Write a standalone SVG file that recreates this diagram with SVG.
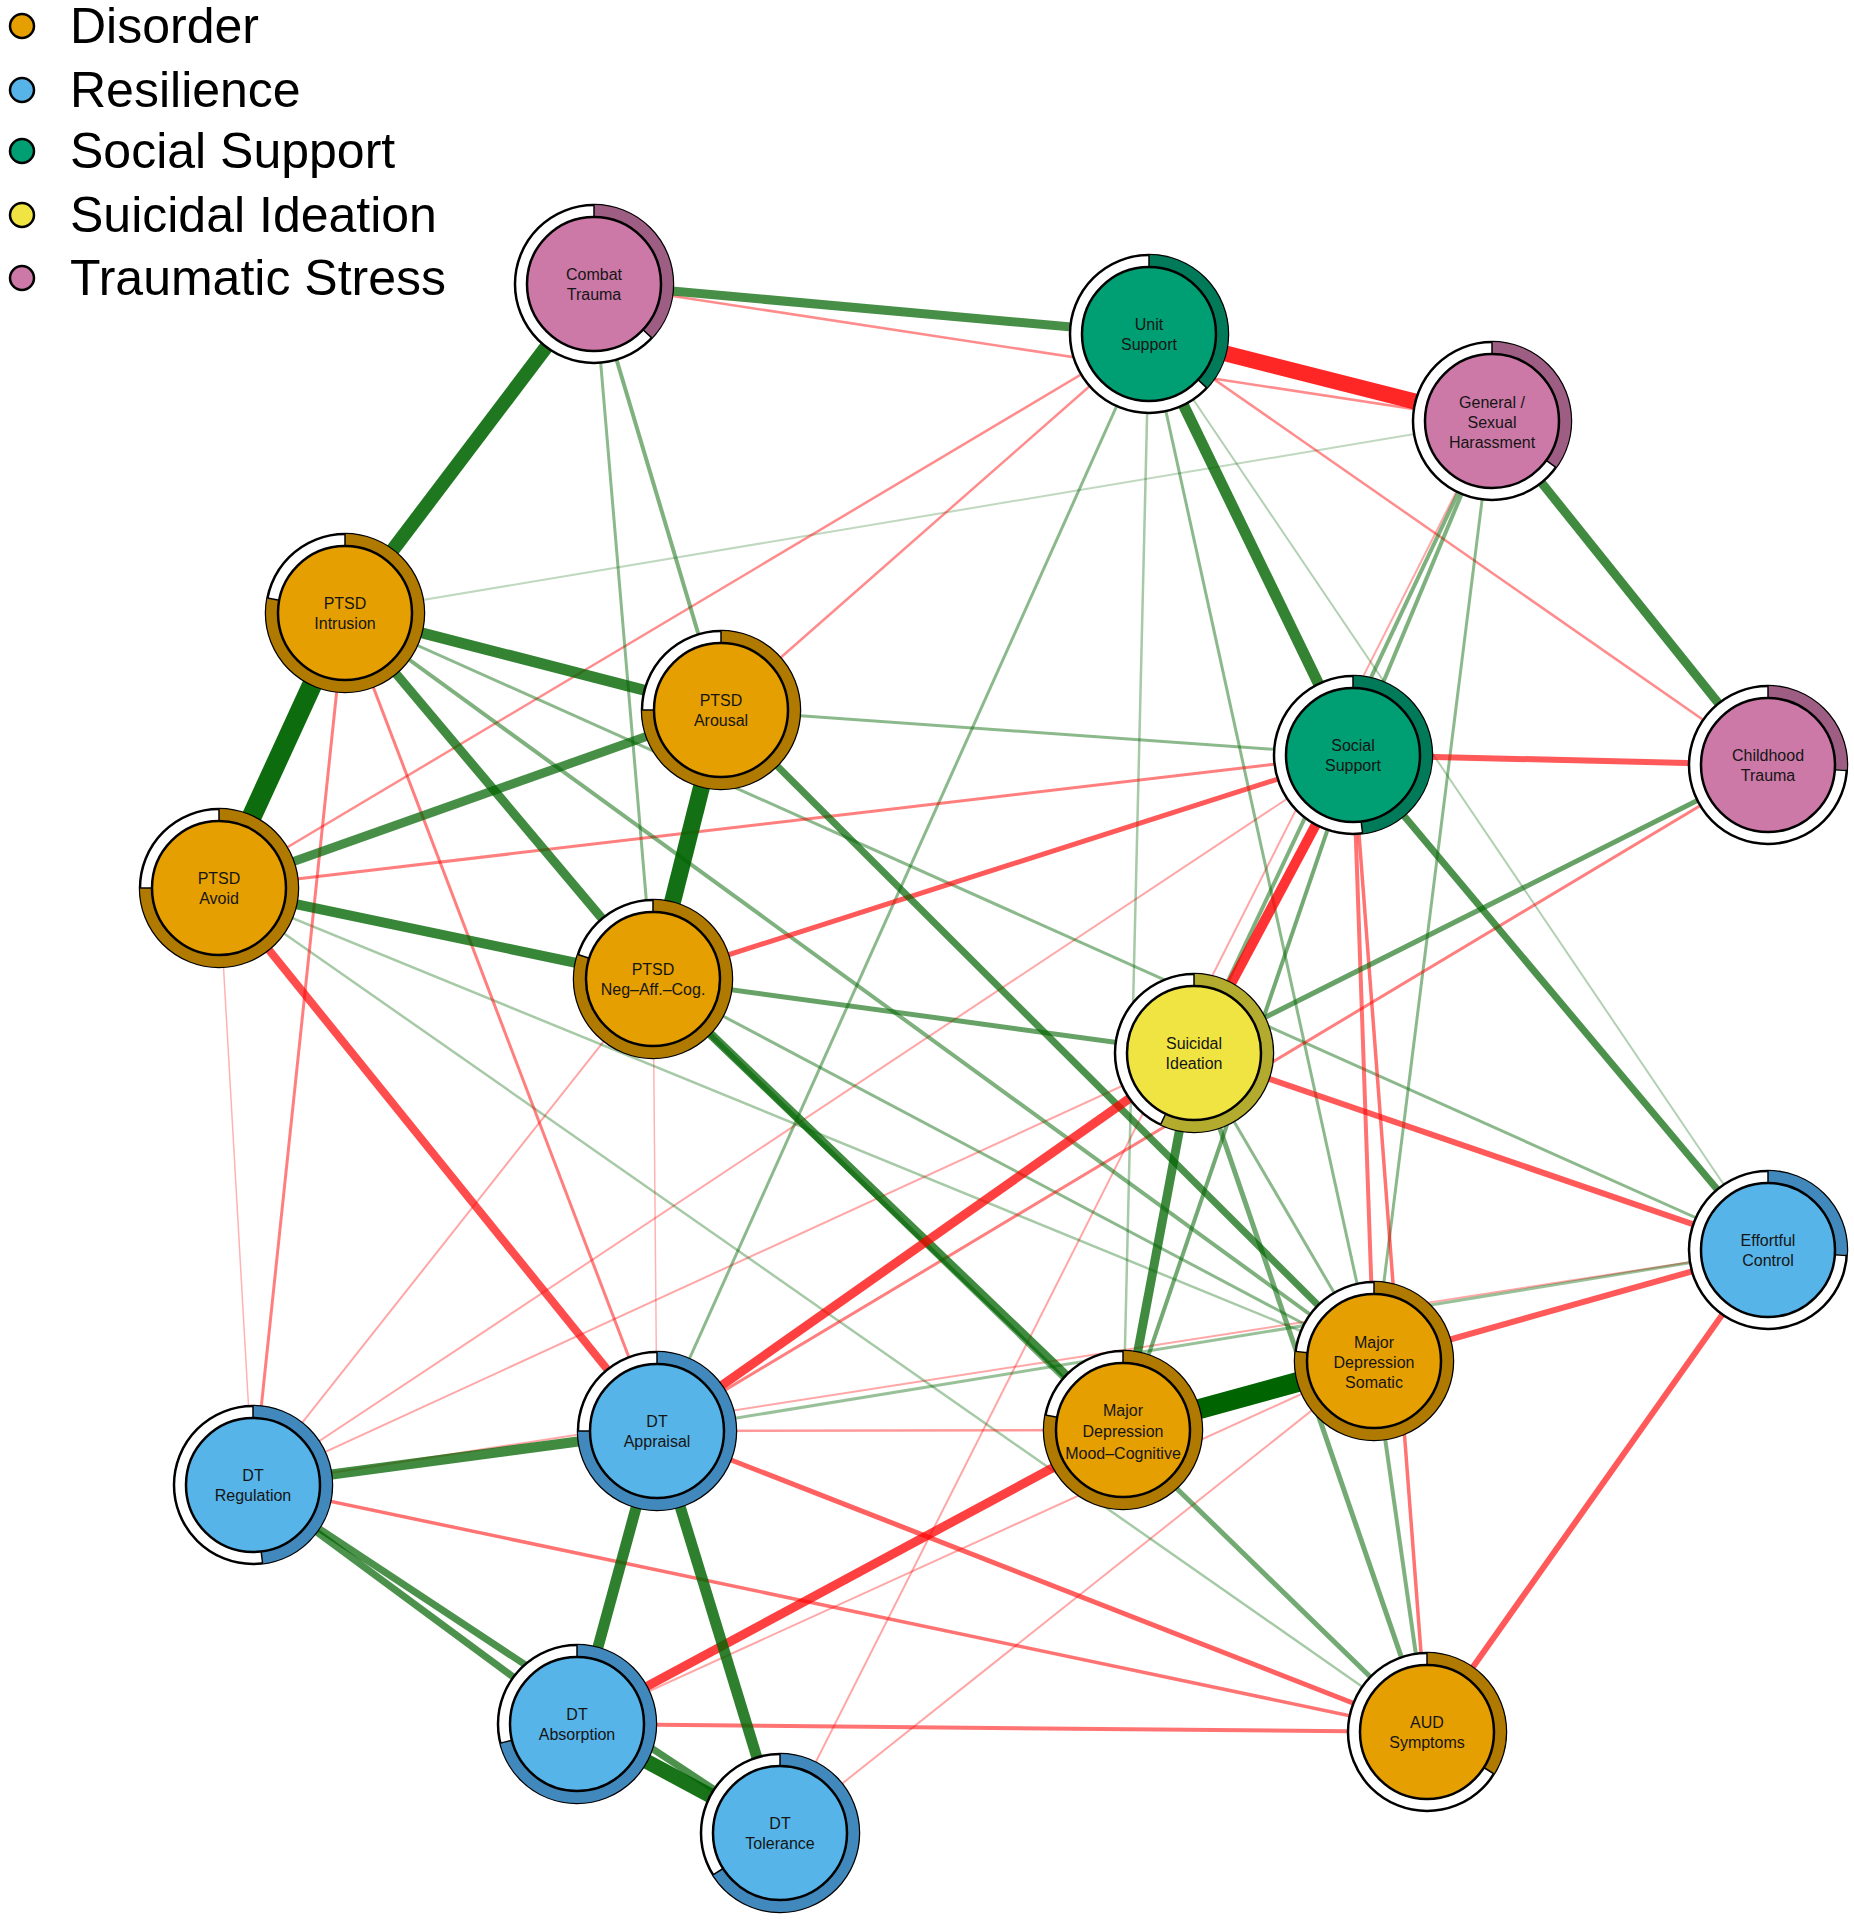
<svg xmlns="http://www.w3.org/2000/svg" width="1854" height="1920" viewBox="0 0 1854 1920">
<style>
.p{stroke:#006400;stroke-linecap:butt;fill:none}
.n{stroke:#ff0000;stroke-linecap:butt;fill:none}
.outer{fill:#fff;stroke:#000;stroke-width:2.5}
.ring{fill:none;stroke-width:12}
.inner{stroke:#000;stroke-width:2.5}
.tick{stroke:#000;stroke-width:1.5}
.lbl{font-family:"Liberation Sans",Arial,sans-serif;font-size:16px;fill:#151515;text-anchor:middle}
.leg{font-family:"Liberation Sans",Arial,sans-serif;font-size:50px;fill:#000}
.dis .inner{fill:#E69F00}.dis .ring{stroke:#B07A00}
.res .inner{fill:#56B4E9}.res .ring{stroke:#4189BC}
.ss .inner{fill:#009E73}.ss .ring{stroke:#007A58}
.si .inner{fill:#F0E442}.si .ring{stroke:#B3AB2E}
.ts .inner{fill:#CC79A7}.ts .ring{stroke:#9E5D82}
</style>
<rect width="1854" height="1920" fill="#fff"/>
<g id="legend">
<circle cx="22" cy="26" r="12" fill="#E69F00" stroke="#000" stroke-width="2.5"/>
<text class="leg" x="70" y="43">Disorder</text>
<circle cx="22" cy="90" r="12" fill="#56B4E9" stroke="#000" stroke-width="2.5"/>
<text class="leg" x="70" y="107">Resilience</text>
<circle cx="22" cy="151" r="12" fill="#009E73" stroke="#000" stroke-width="2.5"/>
<text class="leg" x="70" y="168">Social Support</text>
<circle cx="22" cy="215" r="12" fill="#F0E442" stroke="#000" stroke-width="2.5"/>
<text class="leg" x="70" y="232">Suicidal Ideation</text>
<circle cx="22" cy="278" r="12" fill="#CC79A7" stroke="#000" stroke-width="2.5"/>
<text class="leg" x="70" y="295">Traumatic Stress</text>
</g>
<g id="edges">
<line class="p" x1="345" y1="613" x2="1492" y2="421" stroke-width="2" stroke-opacity="0.25"/>
<line class="p" x1="1149" y1="334" x2="1768" y2="1250" stroke-width="2" stroke-opacity="0.3"/>
<line class="n" x1="219" y1="888" x2="253" y2="1485" stroke-width="1.5" stroke-opacity="0.3"/>
<line class="n" x1="653" y1="979" x2="657" y2="1431" stroke-width="1.5" stroke-opacity="0.3"/>
<line class="n" x1="653" y1="979" x2="253" y2="1485" stroke-width="2" stroke-opacity="0.35"/>
<line class="n" x1="1194" y1="1053" x2="253" y2="1485" stroke-width="2" stroke-opacity="0.35"/>
<line class="n" x1="253" y1="1485" x2="1353" y2="755" stroke-width="2" stroke-opacity="0.35"/>
<line class="n" x1="253" y1="1485" x2="1768" y2="1250" stroke-width="2" stroke-opacity="0.35"/>
<line class="n" x1="577" y1="1724" x2="1374" y2="1361" stroke-width="2" stroke-opacity="0.35"/>
<line class="n" x1="1492" y1="421" x2="780" y2="1833" stroke-width="2" stroke-opacity="0.35"/>
<line class="n" x1="780" y1="1833" x2="1374" y2="1361" stroke-width="2" stroke-opacity="0.35"/>
<line class="p" x1="219" y1="888" x2="1374" y2="1361" stroke-width="2.5" stroke-opacity="0.35"/>
<line class="p" x1="219" y1="888" x2="1427" y2="1732" stroke-width="2.5" stroke-opacity="0.35"/>
<line class="p" x1="1149" y1="334" x2="1123" y2="1430" stroke-width="2.5" stroke-opacity="0.35"/>
<line class="n" x1="1123" y1="1430" x2="657" y2="1431" stroke-width="2.5" stroke-opacity="0.4"/>
<line class="p" x1="657" y1="1431" x2="1768" y2="1250" stroke-width="3" stroke-opacity="0.4"/>
<line class="n" x1="594" y1="284" x2="1492" y2="421" stroke-width="2.5" stroke-opacity="0.45"/>
<line class="n" x1="1149" y1="334" x2="1768" y2="765" stroke-width="2.5" stroke-opacity="0.45"/>
<line class="n" x1="1149" y1="334" x2="219" y2="888" stroke-width="2.5" stroke-opacity="0.45"/>
<line class="n" x1="1149" y1="334" x2="721" y2="710" stroke-width="2.5" stroke-opacity="0.45"/>
<line class="p" x1="721" y1="710" x2="1353" y2="755" stroke-width="3" stroke-opacity="0.45"/>
<line class="p" x1="594" y1="284" x2="653" y2="979" stroke-width="3" stroke-opacity="0.45"/>
<line class="p" x1="345" y1="613" x2="1768" y2="1250" stroke-width="3" stroke-opacity="0.45"/>
<line class="p" x1="653" y1="979" x2="1374" y2="1361" stroke-width="3" stroke-opacity="0.45"/>
<line class="p" x1="1149" y1="334" x2="657" y2="1431" stroke-width="3" stroke-opacity="0.45"/>
<line class="p" x1="1149" y1="334" x2="1374" y2="1361" stroke-width="3" stroke-opacity="0.45"/>
<line class="p" x1="1492" y1="421" x2="1374" y2="1361" stroke-width="3" stroke-opacity="0.45"/>
<line class="p" x1="1194" y1="1053" x2="1374" y2="1361" stroke-width="3" stroke-opacity="0.45"/>
<line class="n" x1="219" y1="888" x2="1353" y2="755" stroke-width="3" stroke-opacity="0.5"/>
<line class="n" x1="345" y1="613" x2="657" y2="1431" stroke-width="3" stroke-opacity="0.5"/>
<line class="n" x1="345" y1="613" x2="253" y2="1485" stroke-width="3" stroke-opacity="0.5"/>
<line class="n" x1="1768" y1="765" x2="657" y2="1431" stroke-width="3" stroke-opacity="0.5"/>
<line class="p" x1="345" y1="613" x2="1374" y2="1361" stroke-width="4" stroke-opacity="0.5"/>
<line class="p" x1="594" y1="284" x2="721" y2="710" stroke-width="4" stroke-opacity="0.5"/>
<line class="p" x1="1492" y1="421" x2="1353" y2="755" stroke-width="4" stroke-opacity="0.5"/>
<line class="p" x1="1492" y1="421" x2="1194" y2="1053" stroke-width="4" stroke-opacity="0.5"/>
<line class="p" x1="1374" y1="1361" x2="1427" y2="1732" stroke-width="4" stroke-opacity="0.5"/>
<line class="p" x1="1353" y1="755" x2="1123" y2="1430" stroke-width="4" stroke-opacity="0.55"/>
<line class="n" x1="1353" y1="755" x2="1427" y2="1732" stroke-width="3.5" stroke-opacity="0.55"/>
<line class="n" x1="253" y1="1485" x2="1427" y2="1732" stroke-width="3.5" stroke-opacity="0.55"/>
<line class="n" x1="577" y1="1724" x2="1427" y2="1732" stroke-width="4" stroke-opacity="0.55"/>
<line class="n" x1="1353" y1="755" x2="1374" y2="1361" stroke-width="4" stroke-opacity="0.55"/>
<line class="p" x1="653" y1="979" x2="1427" y2="1732" stroke-width="5" stroke-opacity="0.55"/>
<line class="p" x1="1194" y1="1053" x2="1427" y2="1732" stroke-width="5" stroke-opacity="0.55"/>
<line class="p" x1="1768" y1="765" x2="1194" y2="1053" stroke-width="5" stroke-opacity="0.6"/>
<line class="p" x1="653" y1="979" x2="1194" y2="1053" stroke-width="5" stroke-opacity="0.6"/>
<line class="n" x1="657" y1="1431" x2="1427" y2="1732" stroke-width="5" stroke-opacity="0.62"/>
<line class="n" x1="653" y1="979" x2="1353" y2="755" stroke-width="5" stroke-opacity="0.65"/>
<line class="n" x1="1353" y1="755" x2="1768" y2="765" stroke-width="6" stroke-opacity="0.65"/>
<line class="n" x1="1194" y1="1053" x2="1768" y2="1250" stroke-width="6" stroke-opacity="0.65"/>
<line class="n" x1="1768" y1="1250" x2="1374" y2="1361" stroke-width="6" stroke-opacity="0.65"/>
<line class="n" x1="1768" y1="1250" x2="1427" y2="1732" stroke-width="6" stroke-opacity="0.65"/>
<line class="p" x1="721" y1="710" x2="1374" y2="1361" stroke-width="7" stroke-opacity="0.7"/>
<line class="p" x1="1353" y1="755" x2="1768" y2="1250" stroke-width="7" stroke-opacity="0.7"/>
<line class="p" x1="253" y1="1485" x2="780" y2="1833" stroke-width="7" stroke-opacity="0.7"/>
<line class="p" x1="253" y1="1485" x2="577" y2="1724" stroke-width="7" stroke-opacity="0.7"/>
<line class="n" x1="219" y1="888" x2="657" y2="1431" stroke-width="8" stroke-opacity="0.7"/>
<line class="p" x1="219" y1="888" x2="721" y2="710" stroke-width="9" stroke-opacity="0.72"/>
<line class="p" x1="594" y1="284" x2="1149" y2="334" stroke-width="9" stroke-opacity="0.72"/>
<line class="p" x1="1492" y1="421" x2="1768" y2="765" stroke-width="9" stroke-opacity="0.75"/>
<line class="p" x1="653" y1="979" x2="1123" y2="1430" stroke-width="9" stroke-opacity="0.75"/>
<line class="p" x1="1194" y1="1053" x2="1123" y2="1430" stroke-width="9" stroke-opacity="0.75"/>
<line class="p" x1="345" y1="613" x2="653" y2="979" stroke-width="9" stroke-opacity="0.75"/>
<line class="n" x1="1194" y1="1053" x2="657" y2="1431" stroke-width="9" stroke-opacity="0.75"/>
<line class="n" x1="1123" y1="1430" x2="577" y2="1724" stroke-width="9" stroke-opacity="0.75"/>
<line class="p" x1="253" y1="1485" x2="657" y2="1431" stroke-width="10" stroke-opacity="0.75"/>
<line class="p" x1="219" y1="888" x2="653" y2="979" stroke-width="10" stroke-opacity="0.78"/>
<line class="n" x1="1353" y1="755" x2="1194" y2="1053" stroke-width="10" stroke-opacity="0.8"/>
<line class="p" x1="1149" y1="334" x2="1353" y2="755" stroke-width="11" stroke-opacity="0.8"/>
<line class="p" x1="345" y1="613" x2="721" y2="710" stroke-width="11" stroke-opacity="0.8"/>
<line class="p" x1="657" y1="1431" x2="577" y2="1724" stroke-width="11" stroke-opacity="0.82"/>
<line class="p" x1="657" y1="1431" x2="780" y2="1833" stroke-width="11" stroke-opacity="0.82"/>
<line class="p" x1="594" y1="284" x2="345" y2="613" stroke-width="14" stroke-opacity="0.88"/>
<line class="n" x1="1149" y1="334" x2="1492" y2="421" stroke-width="16" stroke-opacity="0.85"/>
<line class="p" x1="577" y1="1724" x2="780" y2="1833" stroke-width="15" stroke-opacity="0.9"/>
<line class="p" x1="721" y1="710" x2="653" y2="979" stroke-width="17" stroke-opacity="0.92"/>
<line class="p" x1="345" y1="613" x2="219" y2="888" stroke-width="20" stroke-opacity="0.95"/>
<line class="p" x1="1374" y1="1361" x2="1123" y2="1430" stroke-width="20" stroke-opacity="1"/>
</g>
<g id="n-ct" class="ts" transform="translate(594,284)">
<circle class="outer" r="79"/><circle class="ring" r="73" pathLength="100" stroke-dasharray="37 100" transform="rotate(-90)"/><line class="tick" x1="0" y1="-67" x2="0" y2="-79"/><line class="tick" x1="0" y1="-67" x2="0" y2="-79" transform="rotate(133)"/><circle class="inner" r="67"/>
<text class="lbl" y="-4">Combat</text><text class="lbl" y="16">Trauma</text></g>
<g id="n-us" class="ss" transform="translate(1149,334)">
<circle class="outer" r="79"/><circle class="ring" r="73" pathLength="100" stroke-dasharray="37 100" transform="rotate(-90)"/><line class="tick" x1="0" y1="-67" x2="0" y2="-79"/><line class="tick" x1="0" y1="-67" x2="0" y2="-79" transform="rotate(133)"/><circle class="inner" r="67"/>
<text class="lbl" y="-4">Unit</text><text class="lbl" y="16">Support</text></g>
<g id="n-gsh" class="ts" transform="translate(1492,421)">
<circle class="outer" r="79"/><circle class="ring" r="73" pathLength="100" stroke-dasharray="35 100" transform="rotate(-90)"/><line class="tick" x1="0" y1="-67" x2="0" y2="-79"/><line class="tick" x1="0" y1="-67" x2="0" y2="-79" transform="rotate(126)"/><circle class="inner" r="67"/>
<text class="lbl" y="-13">General /</text><text class="lbl" y="7">Sexual</text><text class="lbl" y="27">Harassment</text></g>
<g id="n-pi" class="dis" transform="translate(345,613)">
<circle class="outer" r="79"/><circle class="ring" r="73" pathLength="100" stroke-dasharray="78 100" transform="rotate(-90)"/><line class="tick" x1="0" y1="-67" x2="0" y2="-79"/><line class="tick" x1="0" y1="-67" x2="0" y2="-79" transform="rotate(281)"/><circle class="inner" r="67"/>
<text class="lbl" y="-4">PTSD</text><text class="lbl" y="16">Intrusion</text></g>
<g id="n-pa" class="dis" transform="translate(721,710)">
<circle class="outer" r="79"/><circle class="ring" r="73" pathLength="100" stroke-dasharray="75 100" transform="rotate(-90)"/><line class="tick" x1="0" y1="-67" x2="0" y2="-79"/><line class="tick" x1="0" y1="-67" x2="0" y2="-79" transform="rotate(270)"/><circle class="inner" r="67"/>
<text class="lbl" y="-4">PTSD</text><text class="lbl" y="16">Arousal</text></g>
<g id="n-ss" class="ss" transform="translate(1353,755)">
<circle class="outer" r="79"/><circle class="ring" r="73" pathLength="100" stroke-dasharray="48 100" transform="rotate(-90)"/><line class="tick" x1="0" y1="-67" x2="0" y2="-79"/><line class="tick" x1="0" y1="-67" x2="0" y2="-79" transform="rotate(173)"/><circle class="inner" r="67"/>
<text class="lbl" y="-4">Social</text><text class="lbl" y="16">Support</text></g>
<g id="n-ch" class="ts" transform="translate(1768,765)">
<circle class="outer" r="79"/><circle class="ring" r="73" pathLength="100" stroke-dasharray="26 100" transform="rotate(-90)"/><line class="tick" x1="0" y1="-67" x2="0" y2="-79"/><line class="tick" x1="0" y1="-67" x2="0" y2="-79" transform="rotate(94)"/><circle class="inner" r="67"/>
<text class="lbl" y="-4">Childhood</text><text class="lbl" y="16">Trauma</text></g>
<g id="n-av" class="dis" transform="translate(219,888)">
<circle class="outer" r="79"/><circle class="ring" r="73" pathLength="100" stroke-dasharray="75 100" transform="rotate(-90)"/><line class="tick" x1="0" y1="-67" x2="0" y2="-79"/><line class="tick" x1="0" y1="-67" x2="0" y2="-79" transform="rotate(270)"/><circle class="inner" r="67"/>
<text class="lbl" y="-4">PTSD</text><text class="lbl" y="16">Avoid</text></g>
<g id="n-nac" class="dis" transform="translate(653,979)">
<circle class="outer" r="79"/><circle class="ring" r="73" pathLength="100" stroke-dasharray="80 100" transform="rotate(-90)"/><line class="tick" x1="0" y1="-67" x2="0" y2="-79"/><line class="tick" x1="0" y1="-67" x2="0" y2="-79" transform="rotate(288)"/><circle class="inner" r="67"/>
<text class="lbl" y="-4">PTSD</text><text class="lbl" y="16">Neg–Aff.–Cog.</text></g>
<g id="n-si" class="si" transform="translate(1194,1053)">
<circle class="outer" r="79"/><circle class="ring" r="73" pathLength="100" stroke-dasharray="57 100" transform="rotate(-90)"/><line class="tick" x1="0" y1="-67" x2="0" y2="-79"/><line class="tick" x1="0" y1="-67" x2="0" y2="-79" transform="rotate(205)"/><circle class="inner" r="67"/>
<text class="lbl" y="-4">Suicidal</text><text class="lbl" y="16">Ideation</text></g>
<g id="n-ec" class="res" transform="translate(1768,1250)">
<circle class="outer" r="79"/><circle class="ring" r="73" pathLength="100" stroke-dasharray="26 100" transform="rotate(-90)"/><line class="tick" x1="0" y1="-67" x2="0" y2="-79"/><line class="tick" x1="0" y1="-67" x2="0" y2="-79" transform="rotate(94)"/><circle class="inner" r="67"/>
<text class="lbl" y="-4">Effortful</text><text class="lbl" y="16">Control</text></g>
<g id="n-ms" class="dis" transform="translate(1374,1361)">
<circle class="outer" r="79"/><circle class="ring" r="73" pathLength="100" stroke-dasharray="77 100" transform="rotate(-90)"/><line class="tick" x1="0" y1="-67" x2="0" y2="-79"/><line class="tick" x1="0" y1="-67" x2="0" y2="-79" transform="rotate(277)"/><circle class="inner" r="67"/>
<text class="lbl" y="-13">Major</text><text class="lbl" y="7">Depression</text><text class="lbl" y="27">Somatic</text></g>
<g id="n-mm" class="dis" transform="translate(1123,1430)">
<circle class="outer" r="79"/><circle class="ring" r="73" pathLength="100" stroke-dasharray="78 100" transform="rotate(-90)"/><line class="tick" x1="0" y1="-67" x2="0" y2="-79"/><line class="tick" x1="0" y1="-67" x2="0" y2="-79" transform="rotate(281)"/><circle class="inner" r="67"/>
<text class="lbl" y="-14">Major</text><text class="lbl" y="7">Depression</text><text class="lbl" y="29">Mood–Cognitive</text></g>
<g id="n-da" class="res" transform="translate(657,1431)">
<circle class="outer" r="79"/><circle class="ring" r="73" pathLength="100" stroke-dasharray="75 100" transform="rotate(-90)"/><line class="tick" x1="0" y1="-67" x2="0" y2="-79"/><line class="tick" x1="0" y1="-67" x2="0" y2="-79" transform="rotate(270)"/><circle class="inner" r="67"/>
<text class="lbl" y="-4">DT</text><text class="lbl" y="16">Appraisal</text></g>
<g id="n-dr" class="res" transform="translate(253,1485)">
<circle class="outer" r="79"/><circle class="ring" r="73" pathLength="100" stroke-dasharray="48 100" transform="rotate(-90)"/><line class="tick" x1="0" y1="-67" x2="0" y2="-79"/><line class="tick" x1="0" y1="-67" x2="0" y2="-79" transform="rotate(173)"/><circle class="inner" r="67"/>
<text class="lbl" y="-4">DT</text><text class="lbl" y="16">Regulation</text></g>
<g id="n-dab" class="res" transform="translate(577,1724)">
<circle class="outer" r="79"/><circle class="ring" r="73" pathLength="100" stroke-dasharray="71 100" transform="rotate(-90)"/><line class="tick" x1="0" y1="-67" x2="0" y2="-79"/><line class="tick" x1="0" y1="-67" x2="0" y2="-79" transform="rotate(256)"/><circle class="inner" r="67"/>
<text class="lbl" y="-4">DT</text><text class="lbl" y="16">Absorption</text></g>
<g id="n-dto" class="res" transform="translate(780,1833)">
<circle class="outer" r="79"/><circle class="ring" r="73" pathLength="100" stroke-dasharray="66 100" transform="rotate(-90)"/><line class="tick" x1="0" y1="-67" x2="0" y2="-79"/><line class="tick" x1="0" y1="-67" x2="0" y2="-79" transform="rotate(238)"/><circle class="inner" r="67"/>
<text class="lbl" y="-4">DT</text><text class="lbl" y="16">Tolerance</text></g>
<g id="n-aud" class="dis" transform="translate(1427,1732)">
<circle class="outer" r="79"/><circle class="ring" r="73" pathLength="100" stroke-dasharray="34 100" transform="rotate(-90)"/><line class="tick" x1="0" y1="-67" x2="0" y2="-79"/><line class="tick" x1="0" y1="-67" x2="0" y2="-79" transform="rotate(122)"/><circle class="inner" r="67"/>
<text class="lbl" y="-4">AUD</text><text class="lbl" y="16">Symptoms</text></g>
</svg>
